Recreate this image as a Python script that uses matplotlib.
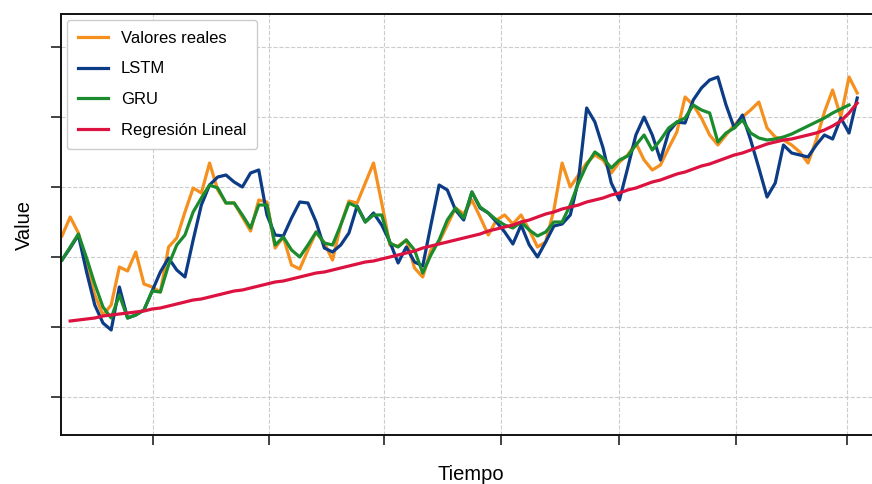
import numpy as np
from matplotlib import pyplot as plt

plt.rcParams['font.family'] = ['Liberation Sans', 'DejaVu Sans']

# valores (unidades arbitrarias, el eje no tiene etiquetas)
reales = [161, 180, 164, 132, 102, 82, 92, 130, 126, 145, 113, 110, 105, 150, 159, 185,
          209, 204, 234, 207, 194, 194, 180, 166, 197, 195, 149, 160, 132, 128, 147, 165,
          154, 137, 172, 196, 194, 214, 234, 194, 152, 151, 157, 129, 120, 147, 155, 172,
          189, 183, 197, 180, 162, 177, 182, 173, 182, 167, 150, 155, 187, 234, 210, 222,
          234, 242, 237, 224, 235, 242, 254, 237, 227, 232, 249, 265, 300, 292, 279, 262,
          252, 262, 272, 280, 287, 295, 269, 260, 257, 252, 245, 234, 257, 285, 307, 280,
          320, 304]

lstm = [137, 149, 162, 125, 92, 74, 67, 110, 79, 82, 87, 106, 125, 139, 127, 120,
        157, 192, 212, 220, 222, 215, 210, 224, 227, 182, 162, 161, 179, 195, 194, 175,
        149, 145, 152, 164, 191, 175, 184, 172, 155, 134, 150, 135, 131, 172, 212, 207,
        187, 177, 205, 189, 184, 175, 165, 153, 172, 152, 140, 155, 171, 173, 182, 217,
        289, 275, 249, 214, 197, 229, 262, 280, 262, 237, 265, 275, 274, 297, 309, 317,
        320, 292, 269, 282, 257, 229, 200, 214, 252, 244, 242, 240, 252, 262, 258, 279,
        264, 299]

gru = [137, 150, 163, 139, 113, 90, 79, 102, 79, 82, 87, 106, 105, 132, 152, 162,
       185, 199, 212, 209, 194, 194, 182, 169, 192, 192, 152, 160, 147, 140, 152, 165,
       154, 152, 172, 194, 190, 175, 182, 182, 154, 150, 157, 147, 124, 142, 157, 177,
       189, 179, 205, 190, 184, 177, 172, 169, 175, 167, 161, 165, 175, 175, 192, 214,
       232, 245, 239, 229, 237, 241, 252, 262, 247, 257, 269, 275, 279, 292, 287, 284,
       255, 264, 269, 277, 264, 259, 257, 258, 260, 263, 267, 271, 275, 279, 284, 288,
       292, np.nan]

regresion = [np.nan, 76, 77, 78, 79, 81, 82, 83, 84, 85, 86, 88, 89, 91, 93, 95,
             97, 98, 100, 102, 104, 106, 107, 109, 111, 113, 115, 116, 118, 120, 122, 124,
             125, 127, 129, 131, 133, 135, 136, 138, 140, 142, 144, 146, 149, 151, 153, 155,
             157, 159, 161, 163, 166, 168, 170, 172, 175, 177, 180, 183, 185, 188, 190, 192,
             195, 197, 199, 202, 204, 207, 209, 212, 215, 217, 220, 223, 225, 228, 231, 233,
             236, 239, 242, 244, 247, 250, 253, 255, 257, 258, 260, 262, 264, 267, 271, 276,
             284, 294]

tiempo = np.arange(len(reales))
x_ticks = [11.1, 25.2, 39.3, 53.6, 68.0, 82.2, 95.8]
y_ticks = [0, 70, 140, 210, 280, 350]

fig = plt.figure(figsize=(8.72, 4.84), dpi=100)
ax = fig.add_axes([61 / 872, 49 / 484, 820 / 872, 421 / 484])

lw = 2.3
ax.plot(tiempo, reales, color='#f5901e', lw=lw, label='Valores reales')
ax.plot(tiempo, lstm, color='#0c3c85', lw=lw, label='LSTM')
ax.plot(tiempo, gru, color='#1b8c2e', lw=lw, label='GRU')
ax.plot(tiempo, regresion, color='#dc1240', lw=lw, label='Regresión Lineal')

ax.set_xlim(-0.12, 99.9)
ax.set_ylim(-38, 383)
ax.set_xticks(x_ticks)
ax.set_yticks(y_ticks)
ax.set_xticklabels([])
ax.set_yticklabels([])
ax.tick_params(direction='out', length=7, width=1.2, color='#222222')

ax.grid(True, linestyle='--', color='#cccccc', linewidth=0.8)
for s in ax.spines.values():
    s.set_linewidth(1.4)
    s.set_color('#111111')

ax.set_xlabel('Tiempo', fontsize=14.5, labelpad=11)
ax.set_ylabel('Value', fontsize=14.5, labelpad=9)

ax.legend(loc='upper left', fontsize=12, handlelength=1.8, labelspacing=0.95,
          borderpad=0.65, borderaxespad=0.35, edgecolor='#cccccc', framealpha=1)

fig.savefig('out.png', dpi=100)
